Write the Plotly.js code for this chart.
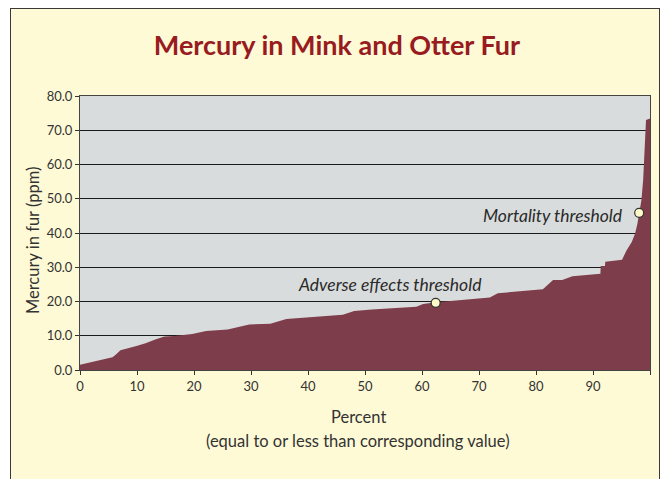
<!DOCTYPE html>
<html>
<head>
<meta charset="utf-8">
<script src="https://cdn.plot.ly/plotly-3.0.1.min.js"></script>
<style>
  html, body { margin: 0; padding: 0; background: #ffffff; overflow: hidden; }
  #frame { position: absolute; left: 10px; top: 8px; width: 648px; height: 472px;
           border: 1px solid #3a3a3a; background: #fffad6; }
  #chart { width: 648px; height: 472px; }
</style>
</head>
<body>
<div id="frame"><div id="chart"></div></div>
<script>
// Cumulative percent (x) and mercury in fur, ppm (y)
const percent = [0, 2, 4, 5.7, 6.3, 7.1, 9.9, 11.5, 13.2, 14.8, 16.5, 19.7, 22.1, 25.9,
  29.7, 33.4, 36.2, 39.7, 43.5, 46.1, 48.1, 51.2, 59.0, 60.2, 62.5, 67.5, 71.9, 73.3,
  76.6, 81.2, 83.0, 84.6, 86.4, 91.3, 91.35, 92.1, 92.15, 95.1, 95.9, 96.8, 97.4,
  97.8, 98.5, 98.8, 99.3, 100];
const mercury = [1.5, 2.2, 2.9, 3.7, 4.5, 5.8, 7.0, 7.8, 8.9, 9.8, 9.9, 10.5, 11.4, 11.8,
  13.3, 13.5, 14.9, 15.3, 15.6, 16.1, 17.2, 17.7, 18.5, 19.3, 19.8, 20.6, 21.2, 22.4,
  22.9, 23.6, 26.3, 26.3, 27.4, 28.1, 30.4, 30.4, 31.6, 32.2, 35.0, 37.4, 39.9,
  42.8, 49.6, 55.5, 73.0, 73.4];

const thresholdNames = ["Adverse effects threshold", "Mortality threshold"];
const thresholdX = [62.4, 98.1];
const thresholdY = [19.6, 45.9];

const xTicks = [0, 10, 20, 30, 40, 50, 60, 70, 80, 90, 100];
const yTicks = [0, 10, 20, 30, 40, 50, 60, 70, 80];

const FONT = "Lato, 'Open Sans', sans-serif";

const traces = [
  {
    x: percent, y: mercury, type: "scatter", mode: "lines",
    fill: "tozeroy", fillcolor: "#7e3d4a",
    line: { width: 0, color: "#7e3d4a", shape: "linear" },
    hoverinfo: "x+y", showlegend: false
  },
  {
    x: thresholdX, y: thresholdY, type: "scatter", mode: "markers",
    marker: { size: 9, color: "#fffbc8", line: { color: "#333333", width: 1.2 } },
    text: thresholdNames, hoverinfo: "text", showlegend: false
  }
];

const layout = {
  width: 648, height: 472,
  paper_bgcolor: "#fffad6",
  plot_bgcolor: "#d9dcdc",
  margin: { l: 69, r: 9, t: 87, b: 111, pad: 0 },
  font: { family: FONT, color: "#333333", size: 13 },
  title: {
    text: "<b>Mercury in Mink and Otter Fur</b>",
    font: { family: FONT, size: 27, color: "#971b20" },
    x: 0.503, xanchor: "center", xref: "container",
    y: 0.922, yanchor: "middle", yref: "container"
  },
  xaxis: {
    range: [0, 100], tickvals: xTicks, ticktext: xTicks.map(String),
    ticks: "outside", ticklen: 4, tickcolor: "#333333", tickwidth: 1,
    showgrid: false, zeroline: false,
    showline: true, linecolor: "#444444", linewidth: 1, mirror: true,
    tickfont: { family: FONT, size: 13, color: "#333333" }
  },
  yaxis: {
    range: [0, 80], tickvals: yTicks, ticktext: yTicks.map(v => v.toFixed(1)),
    ticks: "outside", ticklen: 4, tickcolor: "#333333", tickwidth: 1,
    showgrid: true, gridcolor: "#1a1a1a", gridwidth: 1,
    zeroline: false,
    showline: true, linecolor: "#444444", linewidth: 1, mirror: true,
    tickfont: { family: FONT, size: 13, color: "#333333" }
  },
  annotations: [
    { text: "<i>" + thresholdNames[0] + "</i>", x: 70.9, y: 24.9, xref: "x", yref: "y",
      xanchor: "right", yanchor: "middle", showarrow: false,
      font: { family: FONT, size: 17.5, color: "#2a2a2a" } },
    { text: "<i>" + thresholdNames[1] + "</i>", x: 95.6, y: 45.1, xref: "x", yref: "y",
      xanchor: "right", yanchor: "middle", showarrow: false,
      font: { family: FONT, size: 17.5, color: "#2a2a2a" } },
    { text: "Percent", x: 0.488, y: -0.173, xref: "paper", yref: "paper",
      xanchor: "center", yanchor: "middle", showarrow: false,
      font: { family: FONT, size: 16.5, color: "#333333" } },
    { text: "(equal to or less than corresponding value)", x: 0.488, y: -0.26,
      xref: "paper", yref: "paper", xanchor: "center", yanchor: "middle", showarrow: false,
      font: { family: FONT, size: 16.5, color: "#333333" } },
    { text: "Mercury in fur (ppm)", x: -0.082, y: 0.475, xref: "paper", yref: "paper",
      xanchor: "center", yanchor: "middle", textangle: -90, showarrow: false,
      font: { family: FONT, size: 16.5, color: "#333333" } }
  ]
};

Plotly.newPlot("chart", traces, layout, { displayModeBar: false, staticPlot: true });
</script>
</body>
</html>
